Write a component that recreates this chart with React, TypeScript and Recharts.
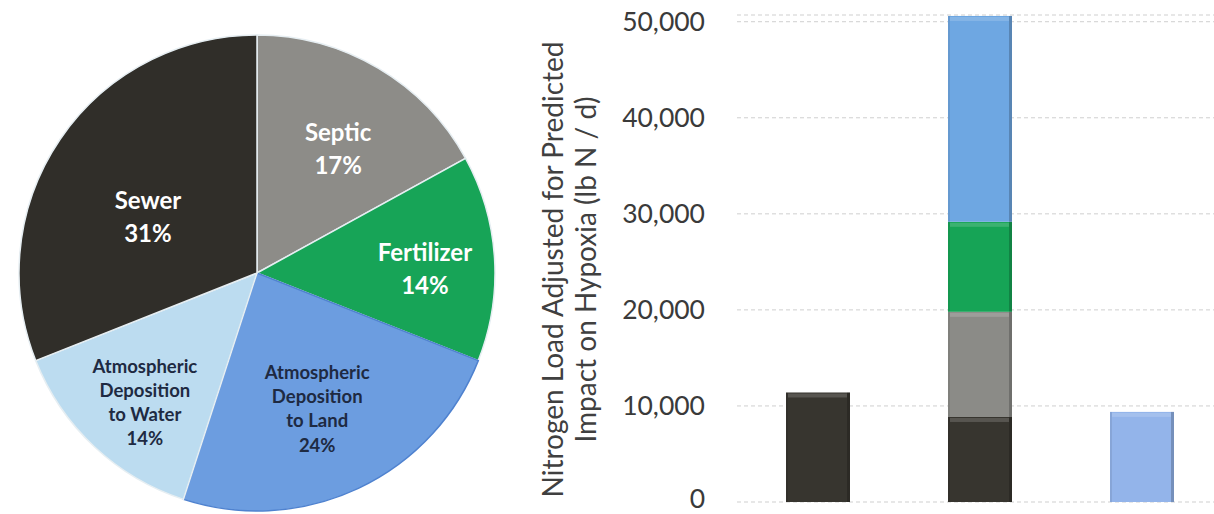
import { PieChart, Pie, Cell, BarChart, Bar, XAxis, YAxis, CartesianGrid, Label } from "recharts";

const RADIAN = Math.PI / 180;
const FONT = "Lato, 'Noto Sans', sans-serif";

// pie: share of total load by source (clockwise from 12 o'clock)
const SOURCES = ["Septic", "Fertilizer", "Atmospheric\nDeposition\nto Land", "Atmospheric\nDeposition\nto Water", "Sewer"];
const SHARES = [17, 14, 24, 14, 31];

// bars: three groups, stacked by source (lb N / d)
const GROUPS = ["Point", "Watershed", "Direct"];
const SEWER = [11400, 8850, 0];
const SEPTIC = [0, 10950, 0];
const FERTILIZER = [0, 9370, 0];
const LAND = [0, 21430, 0];
const WATER = [0, 0, 9380];
const Y_TICKS = [0, 10000, 20000, 30000, 40000, 50000];

const PIE_COLORS = ["#8d8c88", "#17a457", "#6c9de0", "#bcdcf0", "#302e29"];
const PIE_TEXT = ["#ffffff", "#ffffff", "#1e2a42", "#1e2a42", "#ffffff"];
// label placement: fraction of radius, and clockwise nudge (deg) off the slice middle
const LABEL_R = [0.626, 0.706, 0.622, 0.718, 0.517];
const LABEL_TURN = [2.4, 1.9, 1.2, -2.2, -6.6];

const pieData = SOURCES.map((name, i) => ({ name, value: SHARES[i] }));
const barData = GROUPS.map((g, i) => ({
  group: g,
  sewer: SEWER[i],
  septic: SEPTIC[i],
  fertilizer: FERTILIZER[i],
  land: LAND[i],
  water: WATER[i],
}));

const renderPieLabel = (props: any) => {
  const { cx, cy, midAngle, outerRadius, index } = props;
  const r = outerRadius * LABEL_R[index];
  const a = midAngle - LABEL_TURN[index];
  const x = cx + r * Math.cos(-a * RADIAN);
  const y = cy + r * Math.sin(-a * RADIAN);
  const lines = [...SOURCES[index].split("\n"), `${SHARES[index]}%`];
  const small = lines.length > 2;
  const fs = small ? 18.5 : 24;
  const lh = small ? 24.3 : 33;
  return (
    <text
      x={x}
      y={y}
      fill={PIE_TEXT[index]}
      textAnchor="middle"
      fontFamily={FONT}
      fontWeight={700}
      fontSize={fs}
    >
      {lines.map((l, i) => (
        <tspan key={i} x={x} y={y + (i - (lines.length - 1) / 2) * lh} dominantBaseline="central">
          {l}
        </tspan>
      ))}
    </text>
  );
};

const BevelBar = (props: any) => {
  const { x, y, width, height, fill } = props;
  if (!height || height <= 0) return null;
  return (
    <g>
      <rect x={x} y={y} width={width} height={height} fill={fill} />
      <rect x={x + 2} y={y + 1} width={width - 5} height={Math.min(4, height)} fill="#ffffff" opacity={0.16} />
      <rect x={x + width - 3} y={y} width={3} height={height} fill="#000000" opacity={0.2} />
      <rect x={x} y={y} width={2} height={height} fill="#000000" opacity={0.08} />
    </g>
  );
};

const YTick = (props: any) => {
  const { x, y, payload } = props;
  // bottom label sits right on the page edge; lift it a touch
  const lift = payload.value === 0 ? -4 : -1;
  return (
    <text
      x={x}
      y={y + lift}
      textAnchor="end"
      dominantBaseline="central"
      fontFamily={FONT}
      fontSize={26.5}
      fill="#3a3a3a"
    >
      {Number(payload.value).toLocaleString("en-US")}
    </text>
  );
};

const YTitle = (props: any) => {
  const { viewBox } = props;
  const cy = viewBox.y + viewBox.height / 2 + 11;
  const x1 = 32;
  const x2 = 65;
  const style = { fontFamily: FONT, fontSize: 28, fill: "#404040" };
  return (
    <g>
      <text x={x1} y={cy} transform={`rotate(-90 ${x1} ${cy})`} textAnchor="middle" dominantBaseline="central" style={style}>
        Nitrogen Load Adjusted for Predicted
      </text>
      <text x={x2} y={cy} transform={`rotate(-90 ${x2} ${cy})`} textAnchor="middle" dominantBaseline="central" style={style}>
        Impact on Hypoxia (lb N / d)
      </text>
    </g>
  );
};

export default function App() {
  return (
    <div
      style={{
        position: "absolute",
        left: 0,
        top: 0,
        width: 1214,
        height: 514,
        overflow: "hidden",
        background: "#ffffff",
      }}
    >
      <div style={{ position: "absolute", left: 0, top: 0 }}>
        <PieChart width={510} height={514}>
          <Pie
            data={pieData}
            dataKey="value"
            cx={252}
            cy={268}
            outerRadius={238}
            startAngle={90}
            endAngle={-270}
            stroke="#e6eef2"
            strokeWidth={1.5}
            label={renderPieLabel}
            labelLine={false}
            isAnimationActive={false}
          >
            {pieData.map((d, i) => (
              <Cell key={d.name} fill={PIE_COLORS[i]} stroke={i === 2 ? "#4f82cf" : "#e6eef2"} />
            ))}
          </Pie>
        </PieChart>
      </div>
      <div style={{ position: "absolute", left: 520, top: 0 }}>
        <BarChart
          width={703}
          height={514}
          data={barData}
          margin={{ top: 15, right: 0, bottom: 12, left: 0 }}
          barSize={64}
        >
          <CartesianGrid vertical={false} stroke="#cfcfcf" strokeDasharray="4 3" />
          <XAxis dataKey="group" hide />
          <YAxis
            width={217}
            domain={[0, 50700]}
            ticks={Y_TICKS}
            interval={0}
            allowDataOverflow
            axisLine={false}
            tickLine={false}
            tickSize={0}
            tickMargin={32}
            tick={<YTick />}
          >
            <Label content={YTitle} />
          </YAxis>
          <Bar dataKey="sewer" stackId="a" fill="#37352f" shape={BevelBar} isAnimationActive={false} />
          <Bar dataKey="septic" stackId="a" fill="#8b8b87" shape={BevelBar} isAnimationActive={false} />
          <Bar dataKey="fertilizer" stackId="a" fill="#16a456" shape={BevelBar} isAnimationActive={false} />
          <Bar dataKey="land" stackId="a" fill="#6ea7e2" shape={BevelBar} isAnimationActive={false} />
          <Bar dataKey="water" stackId="a" fill="#93b4ea" shape={BevelBar} isAnimationActive={false} />
        </BarChart>
      </div>
    </div>
  );
}
